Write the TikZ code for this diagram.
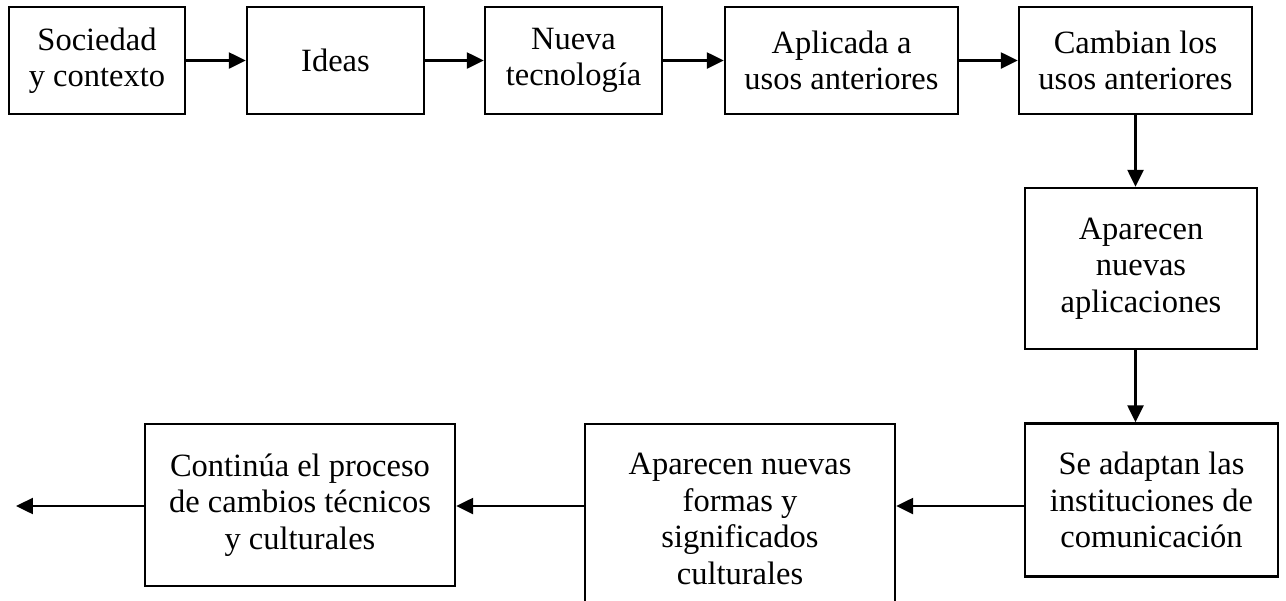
\documentclass[tikz,border=0pt]{standalone}
\usepackage{fontspec}
\setmainfont{Liberation Serif}
\usetikzlibrary{arrows.meta}

\tikzset{
  caja/.style={draw,line width=1.4pt,align=center,inner sep=2pt,
    font=\fontsize{18.5}{20.8}\selectfont},
  flecha/.style={line width=1.4pt,-{Triangle[length=0.34cm,width=0.32cm]}}
}

\begin{document}
\begin{tikzpicture}[x=0.02cm,y=-0.02cm]
         \useasboundingbox (0,0) rectangle (1286,600) ;
         % fila de arriba
         \node[caja,minimum width=3.52cm,minimum height=2.14cm] (soc) at (97,60.5) {Sociedad\\y contexto} ;
         \node[caja,minimum width=3.54cm,minimum height=2.14cm] (ideas) at (335.5,60.5) {Ideas} ;
         \node[caja,minimum width=3.54cm,minimum height=2.14cm] (tec) at (573.5,60.5) {Nueva\\tecnología} ;
         \node[caja,minimum width=4.66cm,minimum height=2.14cm] (apl) at (841.5,60.5) {Aplicada a\\usos anteriores} ;
         \node[caja,minimum width=4.66cm,minimum height=2.14cm] (camb) at (1135.5,60.5) {Cambian los\\usos anteriores} ;
         % columna derecha
         \node[caja,minimum width=4.64cm,minimum height=3.22cm] (apli) at (1141,268.5) {Aparecen\\nuevas\\aplicaciones} ;
         \node[caja,minimum width=5.06cm,minimum height=3.06cm] (inst) at (1151.5,500) {Se adaptan las\\instituciones de\\comunicación} ;
         % fila de abajo
         \node[caja,minimum width=6.2cm,minimum height=3.8cm] (form) at (740,519) {Aparecen nuevas\\formas y\\significados\\culturales} ;
         \node[caja,minimum width=6.2cm,minimum height=3.24cm] (cont) at (300,505) {Continúa el proceso\\de cambios técnicos\\y culturales} ;
         \coordinate (fila) at (0,506) ;
         \coordinate (fin) at (16,506) ;

         \draw[flecha] (soc.east) -- (ideas.west) ;
         \draw[flecha] (ideas.east) -- (tec.west) ;
         \draw[flecha] (tec.east) -- (apl.west) ;
         \draw[flecha] (apl.east) -- (camb.west) ;
         \draw[flecha] (camb.south) -- (camb.south |- apli.north) ;
         \draw[flecha] (apli.south -| camb) -- (inst.north -| camb) ;
         \draw[flecha] (inst.west |- fila) -- (form.east |- fila) ;
         \draw[flecha] (form.west |- fila) -- (cont.east |- fila) ;
         \draw[flecha] (cont.west |- fila) -- (fin) ;
      \end{tikzpicture}
\end{document}
